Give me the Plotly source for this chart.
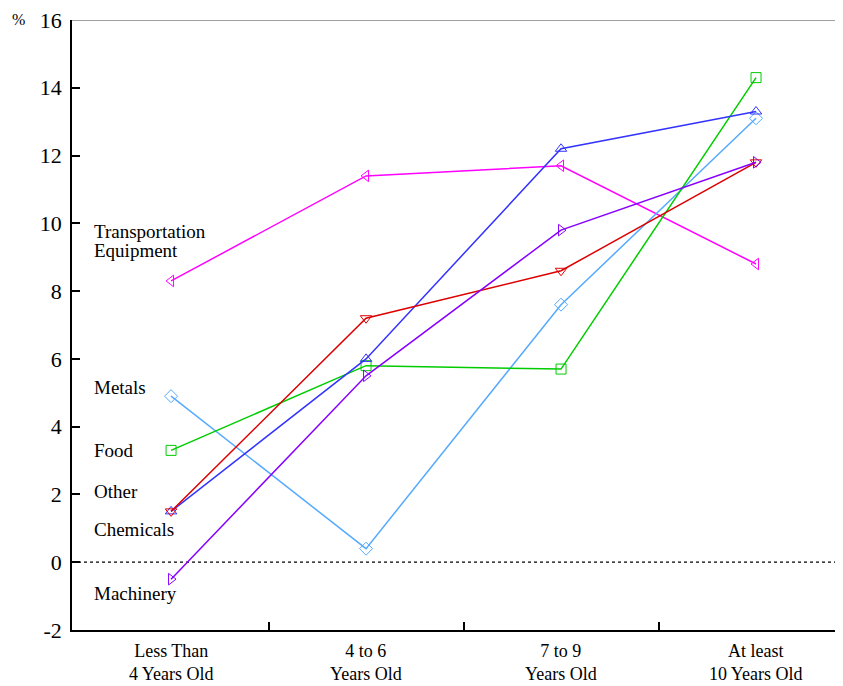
import plotly.graph_objects as go

categories = ["Less Than 4 Years Old", "4 to 6 Years Old", "7 to 9 Years Old", "At least 10 Years Old"]
cat_line1 = ["Less Than", "4 to 6", "7 to 9", "At least"]
cat_line2 = ["4 Years Old", "Years Old", "Years Old", "10 Years Old"]

transportation = [8.3, 11.4, 11.7, 8.8]
metals = [4.9, 0.4, 7.6, 13.1]
food = [3.3, 5.8, 5.7, 14.3]
other = [1.5, 6.0, 12.2, 13.3]
chemicals = [1.5, 7.2, 8.6, 11.8]
machinery = [-0.5, 5.5, 9.8, 11.8]

series_names = ["Transportation Equipment", "Metals", "Food", "Other", "Chemicals", "Machinery"]
series_values = [transportation, metals, food, other, chemicals, machinery]
series_colors = ["#ff00ff", "#55aaff", "#00cc00", "#3333ff", "#dd0000", "#8800ff"]
series_symbols = ["triangle-left-open", "diamond-open", "square-open", "triangle-up-open",
                  "triangle-down-open", "triangle-right-open"]

y_ticks = [-2, 0, 2, 4, 6, 8, 10, 12, 14, 16]
y_tick_labels = ["-2", "0", "2", "4", "6", "8", "10", "12", "14", "16"]

FONT = "Liberation Serif, Times New Roman, serif"

fig = go.Figure()
xs = list(range(len(categories)))
for name, vals, col, sym in zip(series_names, series_values, series_colors, series_symbols):
    fig.add_trace(go.Scatter(
        x=xs, y=vals, mode="lines+markers", name=name,
        line=dict(color=col, width=1.5),
        marker=dict(symbol=sym, size=10, color=col, line=dict(color=col, width=1)),
        showlegend=False, cliponaxis=False,
    ))

# series labels at the left
label_text = ["Transportation", "Equipment", "Metals", "Food", "Other", "Chemicals", "Machinery"]
label_y = [9.77, 9.21, 5.16, 3.30, 2.09, 0.97, -0.91]
for t, yv in zip(label_text, label_y):
    fig.add_annotation(x=-0.405, y=yv, xref="x", yref="y", text=t, showarrow=False,
                       xanchor="left", yanchor="middle",
                       font=dict(family=FONT, size=19, color="black"))

# category labels (two lines per category)
cat_labels = [a + "<br>" + b for a, b in zip(cat_line1, cat_line2)]
for i, lab in enumerate(cat_labels):
    fig.add_annotation(x=i, y=0, xref="x", yref="paper", text=lab, showarrow=False,
                       xanchor="center", yanchor="top", yshift=-10, borderpad=0,
                       font=dict(family=FONT, size=18, color="black"))

fig.add_annotation(x=-0.070, y=1.0016, xref="paper", yref="paper", text="%", showarrow=False,
                   xanchor="center", yanchor="middle", borderpad=0,
                   font=dict(family=FONT, size=16, color="black"))

# zero line (dotted) and top border
fig.add_shape(type="line", xref="paper", yref="y", x0=0, x1=1, y0=0, y1=0,
              line=dict(color="black", width=1.2, dash="dot"), layer="below")
fig.add_shape(type="line", xref="paper", yref="y", x0=0, x1=1, y0=16, y1=16,
              line=dict(color="#808080", width=1.5))

fig.update_layout(
    width=835, height=678,
    margin=dict(l=64, r=0, t=12, b=56),
    paper_bgcolor="white", plot_bgcolor="white",
    font=dict(family=FONT, color="black"),
    xaxis=dict(range=[-0.508, 3.446], showgrid=False, zeroline=False,
               showline=True, linecolor="black", linewidth=1.5,
               tickvals=[0.5, 1.5, 2.5], ticktext=["", "", ""],
               ticks="inside", ticklen=8, tickwidth=1.5, tickcolor="black"),
    yaxis=dict(range=[-2, 16], showgrid=False, zeroline=False,
               showline=True, linecolor="black", linewidth=1.5,
               tickvals=y_ticks, ticktext=y_tick_labels,
               ticks="inside", ticklen=8, tickwidth=1.5, tickcolor="black",
               ticklabeloverflow="allow",
               tickfont=dict(family=FONT, size=22, color="black"), ticklabelstandoff=4),
)

fig.write_html("out.html")
